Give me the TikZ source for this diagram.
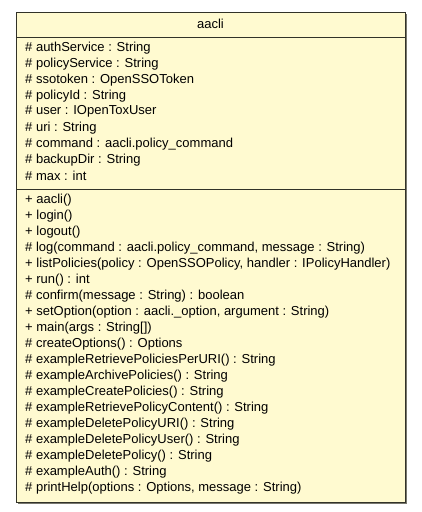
\documentclass[tikz,border=0pt]{standalone}
\usepackage{fontspec}
\setmainfont{Liberation Sans}
\usepackage{tikz}
\usetikzlibrary{calc}
\definecolor{classfill}{RGB}{255,250,208}
\definecolor{classline}{RGB}{50,50,40}
\definecolor{shadowgray}{RGB}{120,120,110}
\tikzset{
  member/.style={anchor=west, inner sep=0pt, font=\fontsize{13}{15}\selectfont},
  title/.style={inner sep=0pt, font=\fontsize{13}{15}\selectfont}
}
\def\drawClassBox{
\coordinate (TL) at (16,12);
\coordinate (BR) at (405,502);
\fill[shadowgray] ($(TL)+(1.5,1.5)$) rectangle ($(BR)+(1.5,1.5)$);
\filldraw[fill=classfill, draw=classline, line width=1pt] (TL) rectangle (BR);
\draw[classline, line width=1pt] (16,37) -- (405,37);
\draw[classline, line width=1pt] (16,189) -- (405,189);
}

\begin{document}
\begin{tikzpicture}[x=1pt, y=-1pt]
  \useasboundingbox (0,0) rectangle (421,512);
  \drawClassBox
  \node[title] (name) at (210.5,24) {aacli};
  % attributes
  \node[member] (a1) at (25,47.7) {\# authService : String};
  \node[member] (a2) at (25,63.7) {\# policyService : String};
  \node[member] (a3) at (25,79.7) {\# ssotoken : OpenSSOToken};
  \node[member] (a4) at (25,95.7) {\# policyId : String};
  \node[member] (a5) at (25,111.7) {\# user : IOpenToxUser};
  \node[member] (a6) at (25,127.7) {\# uri : String};
  \node[member] (a7) at (25,143.7) {\# command : aacli.policy\_command};
  \node[member] (a8) at (25,159.7) {\# backupDir : String};
  \node[member] (a9) at (25,175.7) {\# max : int};
  % operations
  \node[member] (o1) at (25,200) {+ aacli()};
  \node[member] (o2) at (25,216) {+ login()};
  \node[member] (o3) at (25,232) {+ logout()};
  \node[member] (o4) at (25,248) {\# log(command : aacli.policy\_command, message : String)};
  \node[member] (o5) at (25,264) {+ listPolicies(policy : OpenSSOPolicy, handler : IPolicyHandler)};
  \node[member] (o6) at (25,280) {+ run() : int};
  \node[member] (o7) at (25,296) {\# confirm(message : String) : boolean};
  \node[member] (o8) at (25,312) {+ setOption(option : aacli.\_option, argument : String)};
  \node[member] (o9) at (25,328) {+ main(args : String[])};
  \node[member] (o10) at (25,344) {\# createOptions() : Options};
  \node[member] (o11) at (25,360) {\# exampleRetrievePoliciesPerURI() : String};
  \node[member] (o12) at (25,376) {\# exampleArchivePolicies() : String};
  \node[member] (o13) at (25,392) {\# exampleCreatePolicies() : String};
  \node[member] (o14) at (25,408) {\# exampleRetrievePolicyContent() : String};
  \node[member] (o15) at (25,424) {\# exampleDeletePolicyURI() : String};
  \node[member] (o16) at (25,440) {\# exampleDeletePolicyUser() : String};
  \node[member] (o17) at (25,456) {\# exampleDeletePolicy() : String};
  \node[member] (o18) at (25,472) {\# exampleAuth() : String};
  \node[member] (o19) at (25,488) {\# printHelp(options : Options, message : String)};
\end{tikzpicture}
\end{document}
